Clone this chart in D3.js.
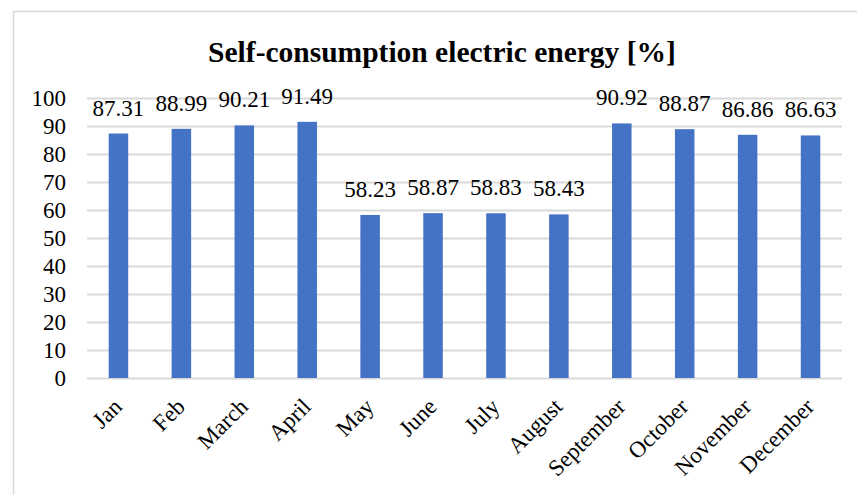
<!DOCTYPE html>
<html>
<head>
<meta charset="utf-8">
<script src="https://cdn.jsdelivr.net/npm/d3@7"></script>
<style>
  html, body { margin: 0; padding: 0; background: #ffffff; }
  svg { display: block; }
</style>
</head>
<body>
<svg id="chart" width="857" height="495"></svg>
<script>
// Monthly self-consumption share of electric energy
const months = ["Jan", "Feb", "March", "April", "May", "June", "July", "August",
                "September", "October", "November", "December"];
const selfConsumption = [87.31, 88.99, 90.21, 91.49, 58.23, 58.87, 58.83, 58.43,
                         90.92, 88.87, 86.86, 86.63];
const yTicks = [0, 10, 20, 30, 40, 50, 60, 70, 80, 90, 100];
const titleText = "Self-consumption electric energy [%]";

const W = 857, H = 495;
const margin = { left: 87, right: 15, top: 98, bottom: 117 };
const fontFamily = "'Liberation Serif', 'Times New Roman', serif";
const gridColor = "#d9d9d9";
const barColor = "#4472c4";

const svg = d3.select("#chart");

// outer chart frame
svg.append("rect")
  .attr("x", 13.5).attr("y", 11.5)
  .attr("width", W).attr("height", H)
  .attr("fill", "#ffffff")
  .attr("stroke", gridColor).attr("stroke-width", 1.5);

const x = d3.scaleBand()
  .domain(months)
  .range([margin.left, W - margin.right])
  .paddingInner(0.69).paddingOuter(0.345);

const y = d3.scaleLinear()
  .domain([0, 100])
  .range([H - margin.bottom, margin.top]);

// title
svg.append("text")
  .attr("x", 442).attr("y", 62)
  .attr("text-anchor", "middle")
  .attr("font-family", fontFamily)
  .attr("font-weight", "bold")
  .attr("font-size", 29.5)
  .attr("fill", "#000")
  .text(titleText);

// horizontal gridlines and y labels
const yAxis = d3.axisLeft(y)
  .tickValues(yTicks)
  .tickSize(-(W - margin.right - margin.left))
  .tickPadding(21);

const yg = svg.append("g")
  .attr("transform", `translate(${margin.left},0)`)
  .attr("font-family", fontFamily)
  .call(yAxis);
yg.attr("font-family", fontFamily);
yg.select(".domain").remove();
yg.selectAll(".tick line")
  .attr("stroke", gridColor).attr("stroke-width", 2);
yg.selectAll(".tick text")
  .attr("font-family", fontFamily)
  .attr("font-size", 23)
  .attr("fill", "#000")
  .attr("dy", "0.34em");

// bars
svg.append("g").selectAll("rect")
  .data(months)
  .join("rect")
  .attr("x", d => x(d))
  .attr("width", x.bandwidth())
  .attr("y", (d, i) => y(selfConsumption[i]))
  .attr("height", (d, i) => y(0) - y(selfConsumption[i]))
  .attr("fill", barColor);

// value labels
svg.append("g").selectAll("text")
  .data(months)
  .join("text")
  .attr("x", d => x(d) + x.bandwidth() / 2)
  .attr("y", (d, i) => y(selfConsumption[i]) - 18)
  .attr("text-anchor", "middle")
  .attr("font-family", fontFamily)
  .attr("font-size", 23)
  .attr("fill", "#000")
  .text((d, i) => selfConsumption[i].toFixed(2));

// category labels, rotated
const xAxis = d3.axisBottom(x).tickSize(0).tickPadding(0);
const xg = svg.append("g")
  .attr("transform", `translate(0,${y(0)})`)
  .call(xAxis);
xg.attr("font-family", fontFamily);
xg.select(".domain").remove();
xg.selectAll(".tick text")
  .attr("font-family", fontFamily)
  .attr("font-size", 23)
  .attr("fill", "#000")
  .attr("text-anchor", "end")
  .attr("dy", null)
  .attr("y", 0)
  .attr("transform", "translate(5,30) rotate(-45)");
</script>
</body>
</html>
